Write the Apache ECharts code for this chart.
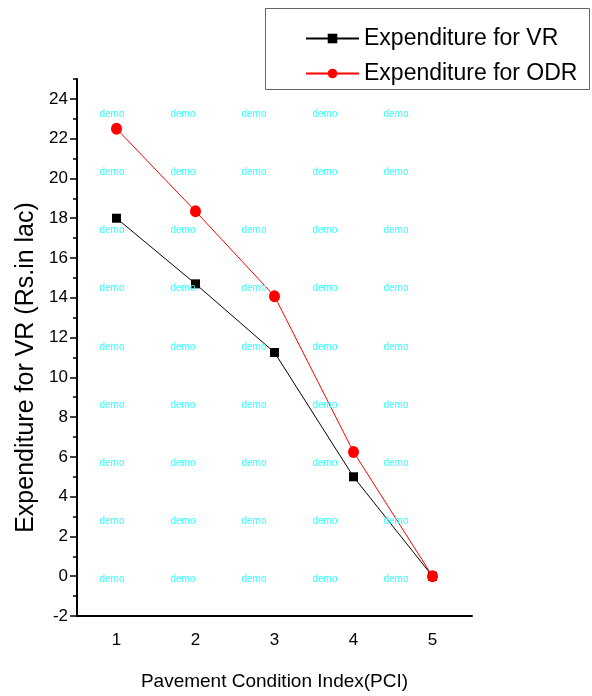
<!DOCTYPE html>
<html>
<head>
<meta charset="utf-8">
<script src="https://cdn.jsdelivr.net/npm/echarts@6/dist/echarts.min.js"></script>
<style>html,body{margin:0;padding:0;background:#fff}#c{width:592px;height:696px}</style>
</head>
<body>
<div id="c"></div>
<script>
const categories = ['1', '2', '3', '4', '5'];
const vrValues = [18.0, 14.7, 11.25, 5.0, 0.0];
const odrValues = [22.5, 18.35, 14.08, 6.25, 0.0];
const yTickLabels = [-2, 0, 2, 4, 6, 8, 10, 12, 14, 16, 18, 20, 22, 24];
const seriesNames = ['Expenditure for VR', 'Expenditure for ODR'];

const FONT = 'Liberation Sans, Arial, sans-serif';

// watermark grid
const wmCols = [112, 183, 254, 325, 396];
const wmRows = [114, 172, 230, 288, 347, 405, 463, 521, 579];
const graphics = [];
wmRows.forEach(y => wmCols.forEach(x => {
  graphics.push({
    type: 'text', x: x, y: y, z: 100, silent: true,
    style: { text: 'demo', fill: '#33ffff', font: '10px ' + FONT, textAlign: 'center', textVerticalAlign: 'middle' }
  });
}));
graphics.push({
  type: 'rect', shape: { x: 265.5, y: 8.5, width: 324, height: 81 }, z: 0,
  style: { fill: '#fff', stroke: '#666', lineWidth: 1 }
});

const chart = echarts.init(document.getElementById('c'), null, { renderer: 'canvas' });
chart.setOption({
  animation: false,
  backgroundColor: '#fff',
  graphic: graphics,
  grid: { left: 77, right: 120, top: 79, bottom: 78 },
  legend: {
    left: 300, top: 22, orient: 'vertical', itemWidth: 53, itemHeight: 12, itemGap: 12,
    z: 10,
    textStyle: { fontFamily: FONT, fontSize: 23, color: '#000' },
    data: seriesNames
  },
  xAxis: [{
    type: 'category', data: categories, boundaryGap: true,
    name: 'Pavement Condition Index(PCI)', nameLocation: 'middle', nameGap: 56,
    nameTextStyle: { fontFamily: FONT, fontSize: 19, color: '#000' },
    axisLine: { onZero: false, lineStyle: { color: '#000', width: 2 } },
    axisTick: { alignWithLabel: true, length: 6, lineStyle: { color: '#000', width: 1.5 } },
    axisLabel: { margin: 16, fontFamily: FONT, fontSize: 17, color: '#000' },
    splitLine: { show: false }
  }, {
    type: 'category', data: categories, boundaryGap: true, position: 'bottom',
    axisLine: { show: false, onZero: false },
    axisTick: { alignWithLabel: false, length: 4, lineStyle: { color: '#000', width: 1.5 } },
    axisLabel: { show: false }, splitLine: { show: false }
  }],
  yAxis: [{
    type: 'value', min: -2, max: 25, interval: 1,
    name: 'Expenditure for VR (Rs.in lac)', nameLocation: 'middle', nameGap: 38, nameRotate: 90,
    nameTextStyle: { fontFamily: FONT, fontSize: 25, color: '#000', padding: [0, 40, 0, 0] },
    axisLine: { show: true, onZero: false, lineStyle: { color: '#000', width: 2 } },
    axisTick: { show: true, length: 7, customValues: yTickLabels, lineStyle: { color: '#000', width: 1.5 } },
    axisLabel: { margin: 9, customValues: yTickLabels, fontFamily: FONT, fontSize: 17, color: '#000' },
    splitLine: { show: false }
  }, {
    type: 'value', min: -2, max: 25, interval: 1, position: 'left',
    axisLine: { show: false, onZero: false },
    axisTick: { show: true, length: 4, lineStyle: { color: '#000', width: 1.5 } },
    axisLabel: { show: false }, splitLine: { show: false }
  }],
  series: [{
    name: seriesNames[0], type: 'line', data: vrValues,
    symbol: 'rect', symbolSize: 9, showAllSymbol: true,
    itemStyle: { color: '#000' }, lineStyle: { color: '#000', width: 1 }, z: 3
  }, {
    name: seriesNames[1], type: 'line', data: odrValues,
    symbol: 'circle', symbolSize: [11, 12], showAllSymbol: true,
    itemStyle: { color: '#ff0000' }, lineStyle: { color: '#ff0000', width: 1 }, z: 4
  }]
});
</script>
</body>
</html>
